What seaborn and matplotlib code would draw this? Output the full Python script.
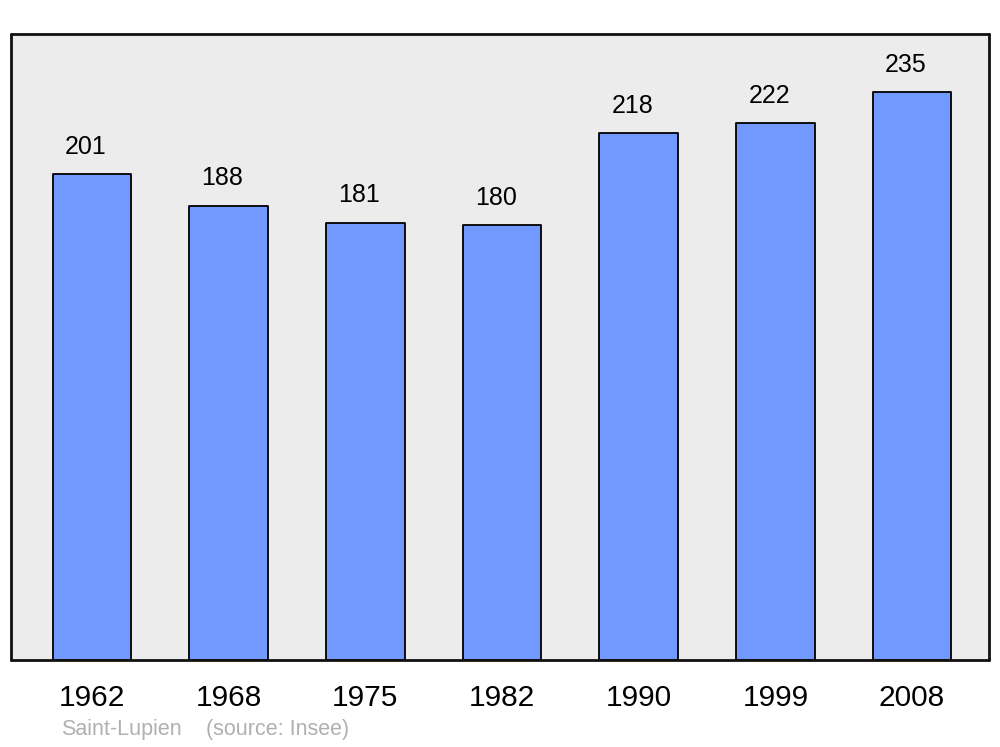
import pandas as pd
import matplotlib.pyplot as plt
import seaborn as sns

# population data (Insee)
years = ["1962", "1968", "1975", "1982", "1990", "1999", "2008"]
population = [201, 188, 181, 180, 218, 222, 235]
town = "Saint-Lupien"
source = "(source: Insee)"

df = pd.DataFrame({"year": years, "pop": population})

sns.set_style("white")
plt.rcParams['font.family'] = ['Liberation Sans', 'DejaVu Sans']
plt.rcParams['text.color'] = 'black'
plt.rcParams['xtick.color'] = 'black'

fig = plt.figure(figsize=(10, 7.47), dpi=100)
ax = fig.add_axes([0.011, 1 - 660 / 747, 0.978, 626 / 747])
ax.set_facecolor("#ececec")

sns.barplot(data=df, x="year", y="pop", color="#7299ff", saturation=1,
            width=0.575, edgecolor="black", linewidth=1.3, ax=ax)
for p in ax.patches:
    p.set_joinstyle("round")

for i, v in enumerate(population):
    ax.annotate(str(v), xy=(i, v), xytext=(-4.5, 11), textcoords="offset points",
                ha="center", va="bottom", fontsize=18, color="black")

ax.set_xlim(-0.593, 6.563)
ax.set_ylim(0, 259)
ax.set_yticks([])
ax.set_xlabel("")
ax.set_ylabel("")
ax.tick_params(axis="x", length=0, pad=17, labelsize=21.5, labelcolor="black")
for s in ax.spines.values():
    s.set_visible(True)
    s.set_linewidth(2)
    s.set_color("#111111")
    s.set_capstyle("round")

fig.text(0.061, 1 - 730 / 747, town, color="#b0b0b0", fontsize=15.5, va="center")
fig.text(0.206, 1 - 730 / 747, source, color="#b0b0b0", fontsize=15.5, va="center")

fig.savefig("out.png", dpi=100)
